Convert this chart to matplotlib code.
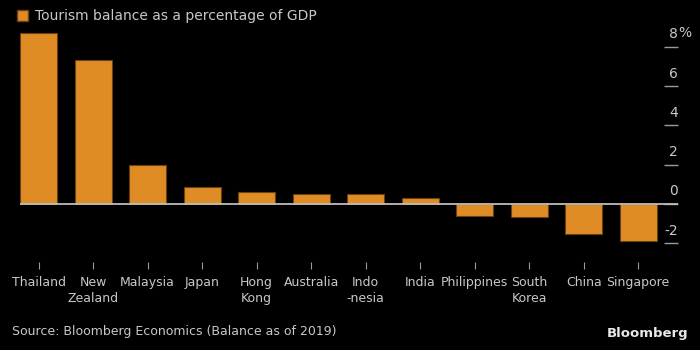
import matplotlib
matplotlib.use("Agg")
import matplotlib.pyplot as plt
from matplotlib.patches import Patch
from matplotlib.transforms import ScaledTranslation

# values (% of GDP, 2019)
countries = ["Thailand", "New\nZealand", "Malaysia", "Japan", "Hong\nKong", "Australia",
             "Indo\n-nesia", "India", "Philippines", "South\nKorea", "China", "Singapore"]
balance = [8.7, 7.35, 2.0, 0.85, 0.58, 0.5, 0.5, 0.3, -0.63, -0.68, -1.52, -1.9]
yticks = [-2, 0, 2, 4, 6, 8]

BG = "black"
ORANGE = "#df8c25"
TXT = "#c8c8c8"
plt.rcParams["font.family"] = ["DejaVu Sans"]
plt.rcParams["font.size"] = 9


def main():
    fig = plt.figure(figsize=(7, 3.5), dpi=100, facecolor=BG)
    ax = fig.add_axes([20 / 700, 88 / 350, 658 / 700, 242 / 350], facecolor=BG)

    x = range(len(countries))
    ax.bar(x, balance, width=0.68, color=ORANGE, edgecolor="#6b4210", linewidth=0.8, zorder=2)
    ax.axhline(0, color="#bdbdbd", linewidth=1.3, zorder=3)

    ax.set_xlim(-0.34, 11.73)
    ax.set_ylim(-2.97, 9.37)

    for s in ax.spines.values():
        s.set_visible(False)

    ax.set_xticks(list(x))
    ax.set_xticklabels(countries, color=TXT, linespacing=1.35, va="top")
    ax.tick_params(axis="x", colors="#9a9a9a", length=5, width=0.8, pad=5, labelcolor=TXT)

    ax.yaxis.tick_right()
    ax.set_yticks(yticks)
    ax.set_yticklabels([str(v) for v in yticks])
    ax.tick_params(axis="y", direction="in", length=10, width=1.0, colors="#9a9a9a",
                   pad=0, labelcolor=TXT, labelsize=10)
    shift = ScaledTranslation(0, 10 / 72, fig.dpi_scale_trans)
    for lab in ax.get_yticklabels():
        lab.set_horizontalalignment("right")
        lab.set_transform(lab.get_transform() + shift)
    # percent sign after the top label
    pct_shift = ScaledTranslation(0.3 / 72, 10 / 72, fig.dpi_scale_trans)
    ax.text(1.0, 8, "%", color=TXT, fontsize=10, ha="left", va="center",
            transform=ax.get_yaxis_transform() + pct_shift)

    fig.legend(handles=[Patch(facecolor=ORANGE, edgecolor="#6b4210")],
               labels=["Tourism balance as a percentage of GDP"],
               loc="upper left", bbox_to_anchor=(0.006, 1.01), frameon=False,
               handlelength=0.8, handleheight=0.85, handletextpad=0.5,
               labelcolor=TXT, fontsize=10)

    fig.text(12 / 700, 1 - 331 / 350, "Source: Bloomberg Economics (Balance as of 2019)",
             color=TXT, ha="left", va="center", fontsize=9)
    fig.text(688 / 700, 1 - 333 / 350, "Bloomberg", color="#e8e8e8", ha="right",
             va="center", fontsize=9.5, fontweight="bold")

    fig.savefig("out.png", dpi=100, facecolor=BG)
    plt.close(fig)


if __name__ == "__main__":
    main()
